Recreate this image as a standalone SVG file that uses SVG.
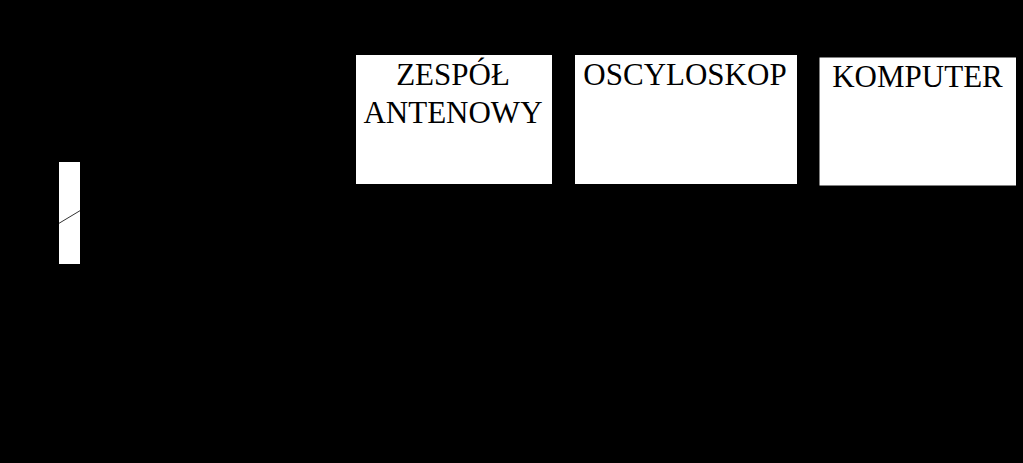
<svg xmlns="http://www.w3.org/2000/svg" width="1023" height="463" viewBox="0 0 1023 463">
<style>
.box{fill:#fff;stroke:none}
.lbl{font-family:"Liberation Serif","Times New Roman",serif;font-size:31px;fill:#000;text-anchor:middle}
</style>
<rect x="0" y="0" width="1023" height="463" fill="#000"/>
<g id="antenna-element">
<rect class="box" x="59" y="162" width="21" height="102"/>
<line x1="59" y1="223.3" x2="80" y2="210.7" stroke="#333" stroke-width="1"/>
</g>
<g id="zespol-antenowy">
<rect class="box" x="356" y="55" width="196" height="129"/>
<text class="lbl" x="453" y="85">ZESPÓŁ</text>
<text class="lbl" x="453" y="122.5">ANTENOWY</text>
</g>
<g id="oscyloskop">
<rect class="box" x="575" y="55" width="222" height="129"/>
<text class="lbl" x="685" y="85">OSCYLOSKOP</text>
</g>
<g id="komputer">
<rect class="box" x="819.5" y="57.5" width="196.5" height="128"/>
<text class="lbl" x="917.5" y="86.5">KOMPUTER</text>
</g>
<g id="connectors"></g>
</svg>
